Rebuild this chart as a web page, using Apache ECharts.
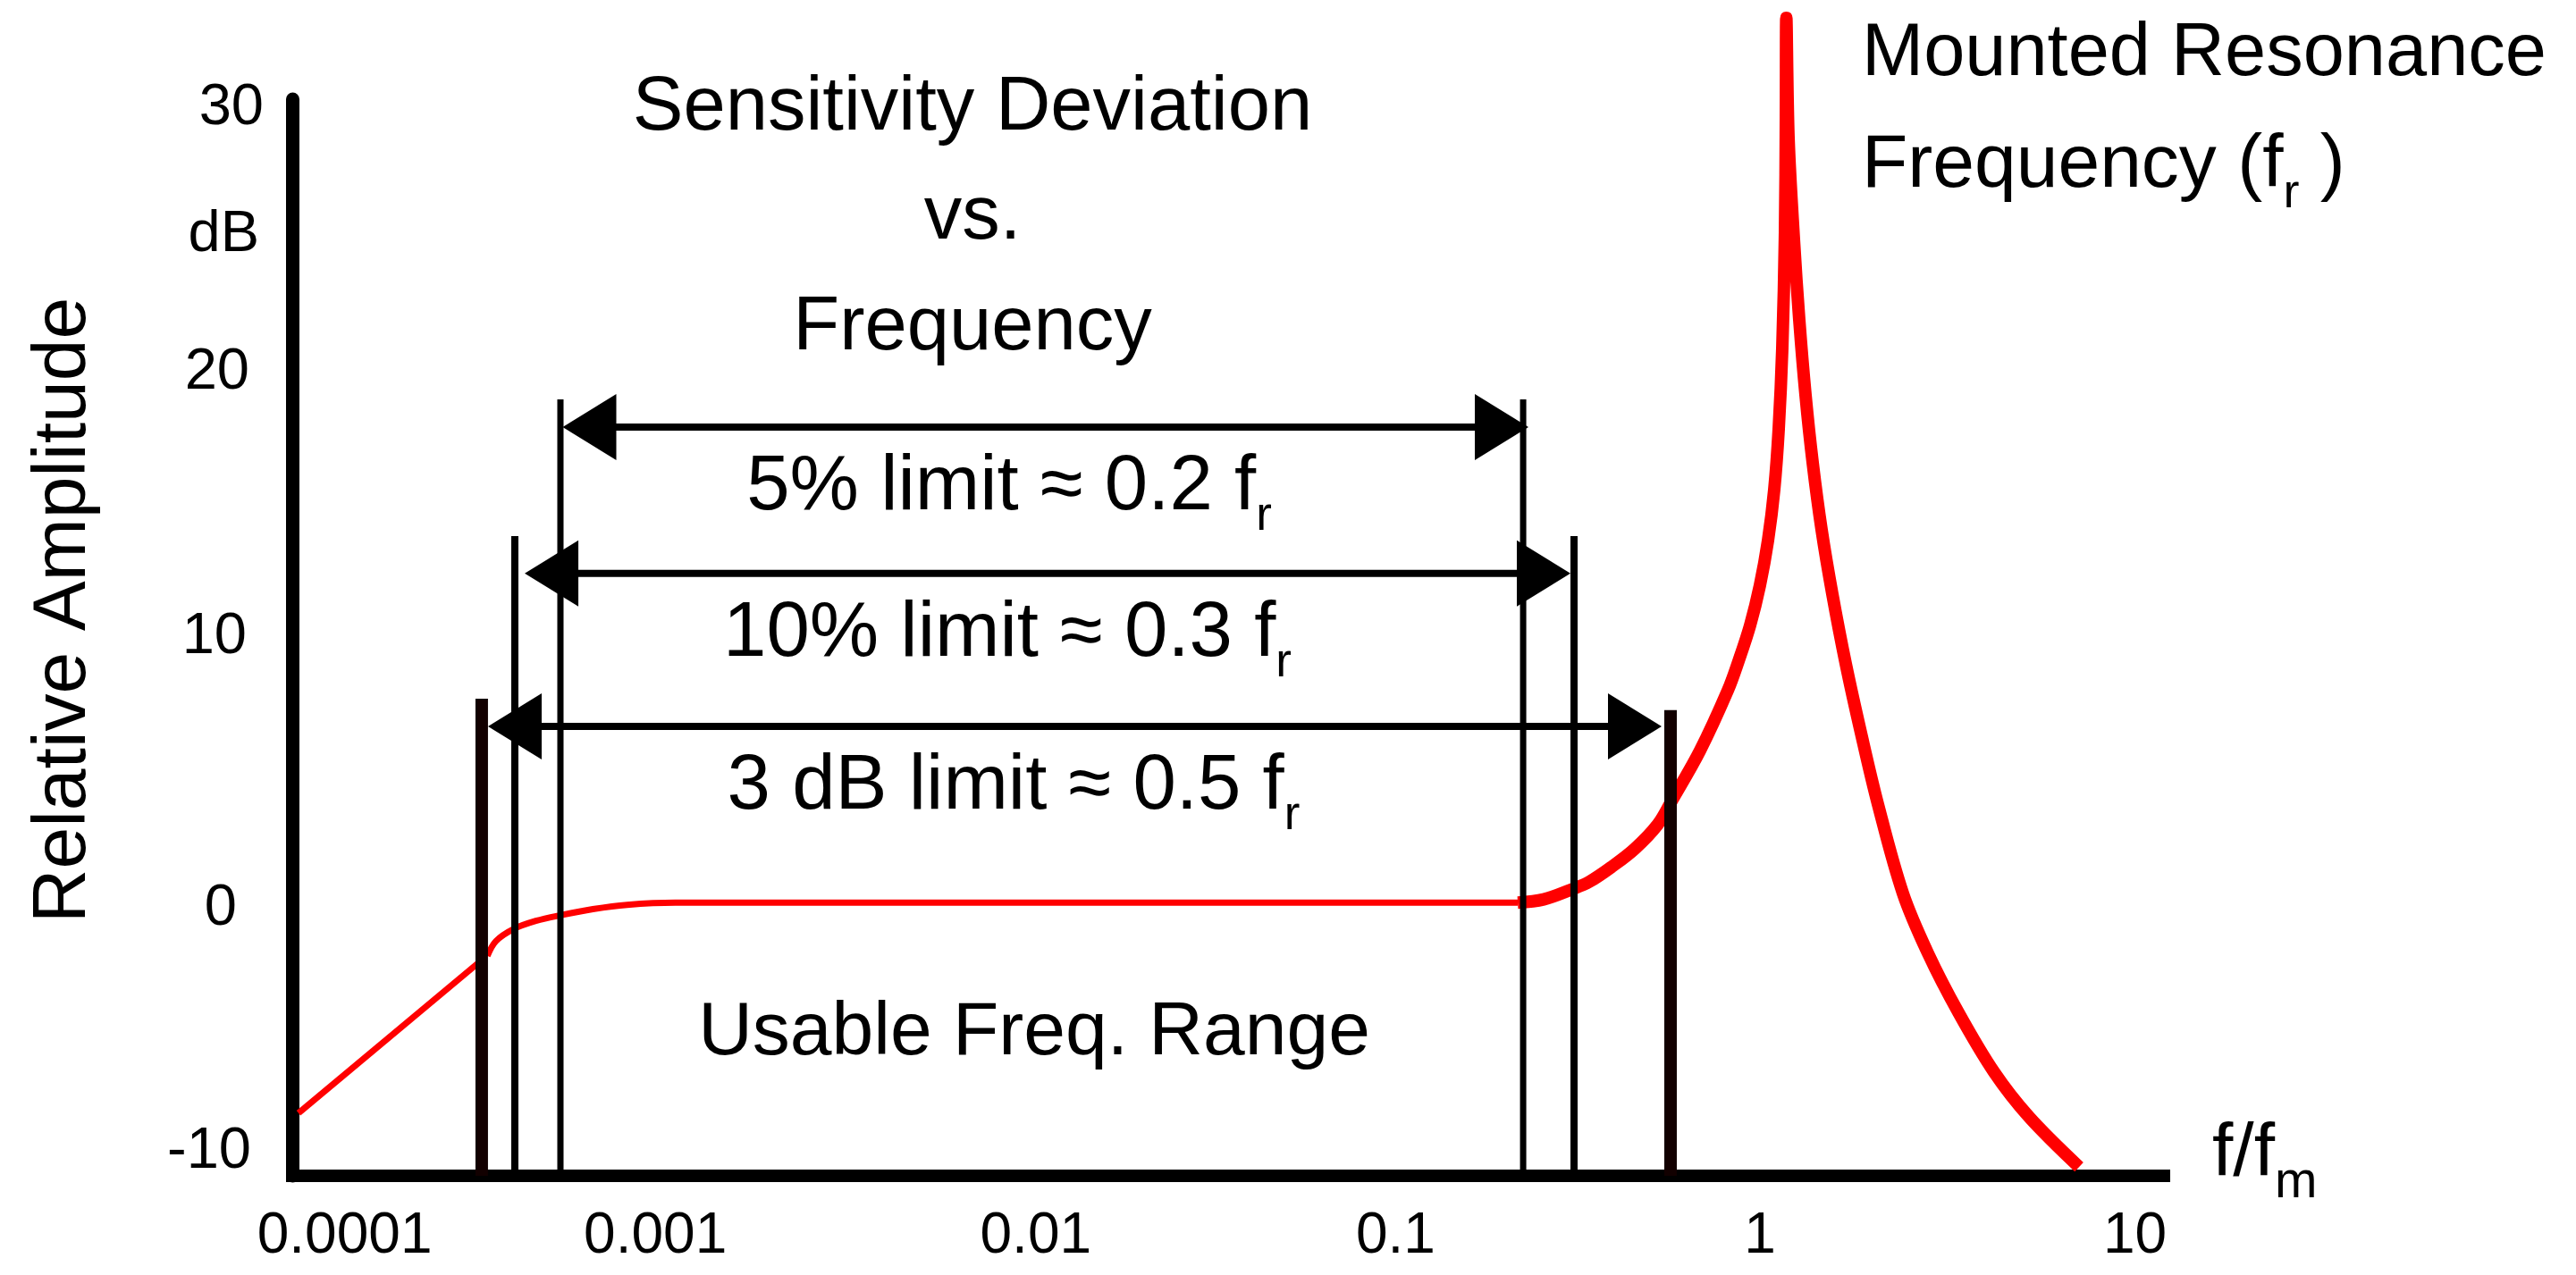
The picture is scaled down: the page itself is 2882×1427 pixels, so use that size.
<!DOCTYPE html>
<html>
<head>
<meta charset="utf-8">
<title>Sensitivity Deviation vs. Frequency</title>
<script src="https://cdn.jsdelivr.net/npm/echarts@6/dist/echarts.min.js"></script>
<style>
  html, body { margin: 0; padding: 0; background: #fff; }
  #chart { width: 2882px; height: 1427px; }
</style>
</head>
<body>
<div id="chart"></div>
<script>
// x: f/fm on a log scale, y: relative amplitude in dB
const xTickValues = [0.0001, 0.001, 0.01, 0.1, 1, 10];
const xTickLabels = ['0.0001', '0.001', '0.01', '0.1', '1', '10'];
const yTickValues = [-10, 0, 10, 20, 25, 30];
const yTickLabels = ['-10', '0', '10', '20', 'dB', '30'];

// thin red roll-off below the usable range
const rampFreq = [8.79e-5, 2.757e-4];
const rampDb = [-7.67, -2.11];

// thin red knee and flat part
const flatFreq = [2.934e-4, 3.098e-4, 3.456e-4, 3.997e-4, 4.709e-4, 5.753e-4, 7.156e-4, 9.745e-4, 0.2107];
const flatDb = [-1.83, -1.28, -0.84, -0.53, -0.31, -0.09, 0.07, 0.15, 0.15];

// thick red rise into the mounted resonance and the fall after it
const resFreq = [0.2107, 0.2485, 0.2983, 0.3323, 0.3847, 0.4447, 0.5147, 0.5622, 0.6746, 0.8052,
  0.8623, 0.9286, 0.9887, 1.0408, 1.0831, 1.1145, 1.1402, 1.1599, 1.1666, 1.1699,
  1.1867, 1.2281, 1.2708, 1.3226, 1.3846, 1.4656, 1.5697, 1.7100, 1.8836, 2.0991,
  2.4633, 2.8891, 3.509, 4.408, 5.507, 7.58];
const resDb = [0.15, 0.27, 0.65, 0.92, 1.49, 2.15, 3.05, 3.92, 5.80, 8.03,
  9.12, 10.45, 11.94, 13.60, 15.49, 17.75, 20.74, 25.05, 29.37, 33.02,
  28.57, 24.79, 21.80, 19.01, 16.49, 14.00, 11.61, 9.02, 6.46, 3.81,
  0.49, -1.73, -3.93, -6.15, -7.81, -9.67];

// vertical limit lines: position (f/fm) and top (dB)
const boundFreq = [2.83e-4, 3.496e-4, 4.677e-4, 0.2181, 0.3018, 0.5588];
const boundTop = [7.73, 13.77, 18.85, 18.85, 13.77, 7.30];
const boundKind = ['3dB', '10%', '5%', '5%', '10%', '3dB'];

// double arrows: low end, high end (f/fm), level (dB)
const arrowLow = [4.744e-4, 3.724e-4, 2.946e-4];
const arrowHigh = [0.2256, 0.2950, 0.5279];
const arrowDb = [17.82, 12.38, 6.70];

const FONT = '"Liberation Sans", Arial, Helvetica, sans-serif';
const RED = '#ff0000';

// the reference tick labels sit a little off the decades / ticks
const xLabelShift = [29, -27, -5, -6, -2, 14];
const yLabelShift = [[14, -27], [30, 2], [19, 0], [16, 5], [5, 1], [0, 10]];

const xRich = {};
xLabelShift.forEach((d, i) => {
  xRich['x' + i] = { fontSize: 64, fontFamily: FONT, color: '#000',
    padding: [0, d < 0 ? -2 * d : 0, 0, d > 0 ? 2 * d : 0] };
});
const yRich = {};
yLabelShift.forEach((s, i) => {
  yRich['y' + i] = { fontSize: 65, fontFamily: FONT, color: '#000',
    padding: [s[1] > 0 ? 2 * s[1] : 0, s[0], s[1] < 0 ? -2 * s[1] : 0, 0] };
});

const boundStyle = {
  '3dB': { color: '#120000', width: 14 },
  '10%': { color: '#000', width: 8 },
  '5%': { color: '#000', width: 7 }
};

const decade = 403.6, onePx = 1971; // px per decade, px of f/fm = 1
const gridLeft = 327, gridRight = 2421;

let myChart = echarts.init(document.getElementById('chart'));

function textEl(x, y, text, size, align, extra) {
  return {
    type: 'text', x: x, y: y, silent: true,
    style: Object.assign({
      text: text, fill: '#000', fontSize: size, fontFamily: FONT,
      align: align, textAlign: align, verticalAlign: 'middle', textVerticalAlign: 'middle'
    }, extra || {})
  };
}
const subRich = (lh, sub) => ({
  lineHeight: lh,
  rich: { r: { fontSize: sub, fontFamily: FONT, fill: '#000', lineHeight: sub, verticalAlign: 'bottom' } }
});

myChart.setOption({
  animation: false,
  backgroundColor: '#fff',
  grid: { left: gridLeft, right: 2882 - gridRight, top: 111, bottom: 111 },
  xAxis: {
    type: 'log',
    logBase: 10,
    min: Math.pow(10, (gridLeft - onePx) / decade),
    max: Math.pow(10, (gridRight - onePx) / decade),
    axisLine: { onZero: false, lineStyle: { color: '#000', width: 14, cap: 'square' } },
    axisTick: { show: false },
    splitLine: { show: false },
    minorTick: { show: false },
    axisLabel: {
      margin: 36,
      formatter: function (v) {
        const i = xTickValues.findIndex(t => Math.abs(Math.log10(v / t)) < 1e-6);
        return i < 0 ? '' : '{x' + i + '|' + xTickLabels[i] + '}';
      },
      rich: xRich
    }
  },
  yAxis: {
    type: 'value',
    min: -10,
    max: 30,
    interval: 5,
    axisLine: { show: true, onZero: false, lineStyle: { color: '#000', width: 15 } },
    axisTick: { show: false },
    splitLine: { show: false },
    axisLabel: {
      margin: 32,
      formatter: function (v) {
        const i = yTickValues.indexOf(v);
        return i < 0 ? '' : '{y' + i + '|' + yTickLabels[i] + '}';
      },
      rich: yRich
    }
  },
  series: [
    {
      name: 'ramp', type: 'line', symbol: 'none', silent: true, z: 2,
      data: rampFreq.map((f, i) => [f, rampDb[i]]),
      lineStyle: { color: RED, width: 7 }
    },
    {
      name: 'flat', type: 'line', symbol: 'none', silent: true, z: 2, smooth: 0.35,
      data: flatFreq.map((f, i) => [f, flatDb[i]]),
      lineStyle: { color: RED, width: 7 }
    },
    {
      name: 'resonance', type: 'line', symbol: 'none', silent: true, z: 2, smooth: 0.35,
      clip: false,
      data: resFreq.map((f, i) => [f, resDb[i]]),
      lineStyle: { color: RED, width: 14 }
    },
    {
      name: 'bounds', type: 'custom', silent: true, z: 4, clip: false,
      data: boundFreq.map((f, i) => [f, boundTop[i], i]),
      encode: { x: 0, y: 1 },
      renderItem: function (params, api) {
        const f = api.value(0);
        const base = api.coord([f, -10]);
        const top = api.coord([f, api.value(1)]);
        const s = boundStyle[boundKind[api.value(2)]];
        return {
          type: 'line',
          shape: { x1: base[0], y1: base[1], x2: top[0], y2: top[1] },
          style: { stroke: s.color, lineWidth: s.width }
        };
      }
    },
    {
      name: 'arrows', type: 'custom', silent: true, z: 5, clip: false,
      data: arrowLow.map((lo, i) => [lo, arrowHigh[i], arrowDb[i]]),
      encode: { x: [0, 1], y: 2 },
      renderItem: function (params, api) {
        const a = api.coord([api.value(0), api.value(2)]);
        const b = api.coord([api.value(1), api.value(2)]);
        const len = 60, half = 37;
        return {
          type: 'group',
          children: [
            { type: 'line', shape: { x1: a[0] + len - 1, y1: a[1], x2: b[0] - len + 1, y2: b[1] },
              style: { stroke: '#000', lineWidth: 8 } },
            { type: 'polygon', shape: { points: [[a[0], a[1]], [a[0] + len, a[1] - half], [a[0] + len, a[1] + half]] },
              style: { fill: '#000' } },
            { type: 'polygon', shape: { points: [[b[0], b[1]], [b[0] - len, b[1] - half], [b[0] - len, b[1] + half]] },
              style: { fill: '#000' } }
          ]
        };
      }
    }
  ],
  graphic: [
    textEl(1088, 122, 'Sensitivity Deviation', 85, 'center'),
    textEl(1088, 244, 'vs.', 85, 'center'),
    textEl(1088, 368, 'Frequency', 85, 'center'),
    textEl(1129, 546, '5% limit \u2248 0.2 f{r|r}', 87, 'center', subRich(118, 53)),
    textEl(1127, 710, '10% limit \u2248 0.3 f{r|r}', 87, 'center', subRich(118, 53)),
    textEl(1134, 881, '3 dB limit \u2248 0.5 f{r|r}', 87, 'center', subRich(118, 53)),
    textEl(1157, 1157, 'Usable Freq. Range', 84, 'center'),
    textEl(2083, 61, 'Mounted Resonance', 83, 'left'),
    textEl(2083, 186, 'Frequency (f{r|r} )', 84, 'left', subRich(116, 54)),
    textEl(2475, 1293, 'f/f{r|m}', 84, 'left', subRich(120, 57)),
    Object.assign(textEl(72, 683, 'Relative Amplitude', 84, 'center'), { rotation: Math.PI / 2 })
  ]
});

window.addEventListener('resize', function () {
  myChart.resize();
});
</script>
</body>
</html>
